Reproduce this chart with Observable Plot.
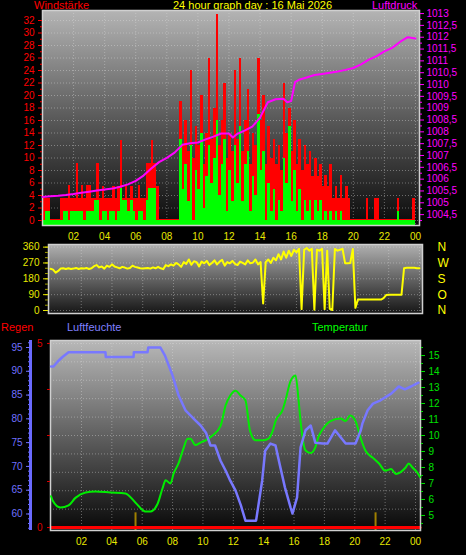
<!DOCTYPE html>
<html><head><meta charset="utf-8">
<script src="https://cdn.jsdelivr.net/npm/d3@7"></script>
<script src="https://cdn.jsdelivr.net/npm/@observablehq/plot@0.6"></script>
<style>
body{margin:0;background:#000;}
#c{position:relative;width:466px;height:555px;background:#000;overflow:hidden;font-family:"Liberation Sans",Arial,sans-serif;}
.t{position:absolute;font-size:11px;line-height:11px;white-space:nowrap;}
</style></head><body>
<svg width="0" height="0" style="position:absolute"><defs>
<linearGradient id="gTop" x1="0" y1="0" x2="0" y2="1"><stop offset="0" stop-color="#b4b4b4"/><stop offset="0.5" stop-color="#5a5a5a"/><stop offset="1" stop-color="#0a0a0a"/></linearGradient>
<linearGradient id="gMid" x1="0" y1="0" x2="0" y2="1"><stop offset="0" stop-color="#b0b0b0"/><stop offset="1" stop-color="#161616"/></linearGradient>
<linearGradient id="gBot" x1="0" y1="0" x2="0" y2="1"><stop offset="0" stop-color="#b8b8b8"/><stop offset="0.5" stop-color="#606060"/><stop offset="1" stop-color="#080808"/></linearGradient>
</defs></svg>
<div id="c">
<div class="t" style="left:34px;top:0px;color:#ff0000">Windstärke</div>
<div class="t" style="left:173px;top:0px;color:#ffff00">24 hour graph day : 16 Mai 2026</div>
<div class="t" style="left:372px;top:0px;color:#ff00ff">Luftdruck</div>
<div class="t" style="left:1px;top:322px;color:#ff0000">Regen</div>
<div class="t" style="left:67px;top:322px;color:#8080ff">Luftfeuchte</div>
<div class="t" style="left:312px;top:322px;color:#00ff00">Temperatur</div>
</div>
<script>
// ---------- data ----------
// wind (km/h), one value per 10 minutes from 00:00
const windGust = [
3.6,3.6,3.6,0,0,0,0,3.6,3.6,3.6,
5.6,3.6,3.6,9.2,3.6,5.6,3.6,5.6,5.6,3.6,
3.6,9.2,3.6,5.4,3.6,3.6,3.6,5.4,3.6,5.4,
12.8,3.6,5.4,3.6,5.4,3.6,3.6,5.6,3.6,3.6,
9.2,9.2,12.8,9.2,5.4,0,0,0,0,0,
0,0,0,19,12,16,11,24,10,15,
12,20,9,14,26,13,18,33,12,16,
22,10,14,11,24,13,26,11,16,21,
9,14,12,26,16,20,9,15,10,13,
9,12,8,22,14,18,11,16,9,13,
8,12,9,11,7,10,7,9,5.4,7.2,
5.4,9,3.6,5.4,3.6,7.2,3.6,5.4,3.6,0,
0,0,0,0,0,3.6,0,0,3.6,3.6,
0,0,0,0,0,0,0,3.6,0,0,
0,0,0,3.6];
const windAvg = [
0,1.4,1.4,0,0,0,0,0,1.4,1.4,
0,1.4,1.4,1.4,1.4,1.4,0,1.4,1.4,1.4,
3.2,3.2,0,1.4,1.4,0,1.4,1.4,0,1.4,
5.1,3.2,3.2,1.4,3.2,1.4,0,1.4,1.4,0,
3.2,5.1,5.1,5.1,0,0,0,0,0,0,
0,0,0,13,5,9,3,12,0,8,
5,14,2,7,12,6,10,16,4,9,
13,1.4,8,3,12,6,15,3,9,11,
1.4,7,4,17,8,11,0,6,1.4,5,
0,3.2,1.4,10,6,15,3,8,1.4,5,
0,3.2,1.4,3.2,0,3.2,1.4,3.2,0,1.4,
0,1.4,0,1.4,0,1.4,0,0,0,0,
0,0,0,0,0,0,0,0,0,0,
0,0,0,0,0,0,0,1.4,0,0,
0,0,0,0];
// pressure (hPa)
const pressHours = [0,0.5,1,1.5,2,2.5,3,3.5,4,4.5,5,5.5,6,6.5,7,7.5,8,8.5,9,9.5,10,10.5,11,11.5,12,12.25,12.5,13,13.5,14,14.5,15,15.5,15.75,16,16.25,16.5,17,17.5,18,18.5,19,19.5,20,20.5,21,21.5,22,22.5,23,23.5,24];
const pressure = [1005.25,1005.28,1005.3,1005.33,1005.37,1005.42,1005.47,1005.52,1005.56,1005.6,1005.68,1005.78,1005.93,1006.15,1006.45,1006.72,1006.9,1007.12,1007.45,1007.52,1007.55,1007.68,1007.8,1007.93,1007.93,1007.76,1007.9,1008.05,1008.22,1008.6,1009.25,1009.38,1009.4,1009.25,1009.3,1010.1,1010.2,1010.3,1010.4,1010.45,1010.5,1010.55,1010.62,1010.7,1010.85,1011.05,1011.2,1011.4,1011.55,1011.8,1012.0,1011.95];
// wind direction (degrees), one value per 10 minutes
const windDir = [
237,232,215,225,238,240,236,240,236,238,
242,236,240,238,242,236,240,252,258,245,
250,238,255,248,262,250,245,240,248,244,
238,242,255,248,244,240,238,240,242,238,
245,240,248,240,235,258,252,262,255,270,
262,248,275,265,290,260,280,275,250,278,
268,282,258,270,285,262,278,288,255,275,
268,282,265,258,278,270,262,285,268,272,
290,262,275,40,275,290,270,300,285,320,
290,335,300,340,310,345,330,350,8,345,
355,340,350,5,345,340,350,8,340,10,
3,350,340,345,350,268,268,270,350,15,
62,62,62,62,62,62,62,62,62,62,
70,88,90,90,90,90,90,90,240,243,
243,243,243,240,240];
// humidity (%)
const humHours = [0,0.16,0.42,0.75,1.15,3.58,3.6,5.43,5.45,6.35,6.4,7.2,7.5,8.0,8.4,8.85,9.5,9.85,10.2,10.5,10.8,11.16,11.5,11.8,12.15,12.5,12.8,13.27,13.5,13.9,14.1,14.45,14.78,15.1,15.4,15.77,15.9,16.2,16.43,16.76,17.1,17.4,17.9,18.2,18.7,19.4,20.05,20.4,20.5,20.85,21.2,21.7,22.4,22.9,23.3,23.7,24.2];
const humidity = [91,91,92,93,94,94,93,93,94,94,95,95,93.3,89.1,84.9,81.8,79.7,78.6,77.1,74.4,74.4,71.2,69.1,67,64.9,61.8,58.6,58.6,58.6,67,73.3,74.8,74.4,69.8,65.6,61.4,60.1,63.5,74,77.6,78.6,75,74.8,74.8,77.6,74.8,74.8,77.6,79,81.8,83.2,83.9,85.3,86.8,86.2,86.8,87.6];
// temperature (°C)
const tempHours = [0,0.1,0.62,1.15,1.6,2.27,2.92,3.9,4.9,5.56,6.2,6.55,7.0,7.34,7.54,7.87,8.06,8.39,8.72,8.99,9.18,9.5,9.84,10.17,10.63,11.16,11.5,11.8,12.15,12.48,12.8,13.1,13.47,14.0,14.32,14.6,14.78,15.25,15.44,15.77,16.1,16.3,16.43,16.76,17.1,17.4,17.6,17.9,18.4,19.06,19.4,19.7,20.05,20.4,20.7,21.2,21.6,22.0,22.4,22.7,23.0,23.35,23.55,23.8,24.1,24.3];
const temperature = [6.2,5.94,5.5,5.63,6.1,6.44,6.5,6.44,6.38,5.8,5.25,5.25,5.7,6.7,7.2,7.0,7.6,8.25,9.2,9.8,9.8,9.4,9.56,9.7,10,10.6,11.9,12.5,12.8,12.5,12.2,10.3,9.7,9.7,9.8,10.3,10.9,11.6,12.2,13.4,13.75,12.2,10.9,9.06,8.9,9.25,9.9,10.4,10.9,11.06,10.9,11.25,10.9,9.8,9.06,8.6,8.25,7.8,7.9,7.6,7.7,8.0,8.25,8.0,7.7,7.4];
// rain (mm)
const rainHours = [0, 24.3];
const rain = [0, 0];
const markHours = [5.56, 21.37];
const markValues = [0.4, 0.4];

const hourTicks = d3.range(2, 25, 2);
const windTicks = d3.range(0, 33, 2);
const pressTicks = d3.range(1004.5, 1013.01, 0.5);
const dirTicks = [0, 90, 180, 270, 360];
const dirNames = ["N", "O", "S", "W", "N"];
const humTicks = [60, 65, 70, 75, 80, 85, 90, 95];
const tempTicks = d3.range(5, 16, 1);
const rainTicks = [0, 1.25, 2.5, 3.75, 5];
const rainLabels = [0, 5];

// ---------- tables ----------
const step = 1 / 6;
const windTable = windGust.map((g, i) => ({x1: i * step, x2: (i + 1) * step, gust: g, avg: windAvg[i]}));
const pressTable = pressHours.map((h, i) => ({h, v: pressure[i]}));
const dirTable = windDir.map((v, i) => ({h: i * step, v}));
const humTable = humHours.map((h, i) => ({h, v: humidity[i]}));
const tempTable = tempHours.map((h, i) => ({h, v: temperature[i]}));
const rainTable = rainHours.map((h, i) => ({h, v: rain[i]}));
const markTable = markHours.map((h, i) => ({h, v: markValues[i]}));

const fmtHour = d => String(d % 24).padStart(2, "0");
const FONT = "'Liberation Sans', Arial, sans-serif";
const baseStyle = {background: "transparent", fontFamily: FONT, overflow: "visible"};
const c = document.getElementById("c");
function place(svg, top) {
  svg.style.position = "absolute"; svg.style.left = "0px"; svg.style.top = top + "px";
  c.appendChild(svg);
}
const gridStyle = {stroke: "#e0e0e0", strokeOpacity: 0.4, strokeDasharray: "1,2"};

// ---------- top panel ----------
const topDims = {width: 466, height: 240, marginLeft: 42, marginRight: 47, marginTop: 10, marginBottom: 15,
  x: {domain: [0, 24.26], axis: null}, style: baseStyle};
place(Plot.plot({...topDims, y: {domain: [-0.8, 33.6], axis: null}, marks: [
  Plot.frame({fill: "url(#gTop)"}),
  Plot.gridX(hourTicks, gridStyle),
  Plot.gridY(windTicks, gridStyle),
  Plot.rect(windTable, {x1: "x1", x2: "x2", y1: -0.16, y2: d => Math.max(d.gust, 0.16), fill: "#ff0000", shapeRendering: "crispEdges"}),
  Plot.rect(windTable, {x1: "x1", x2: "x2", y1: -0.8, y2: d => Math.max(d.avg, -0.35), fill: "#00ff00", shapeRendering: "crispEdges"}),
  Plot.frame({stroke: "#d0d0d0", strokeWidth: 1.5}),
  Plot.axisY(d3.range(1, 33, 2), {tickSize: 2, tickFormat: () => "", color: "#ff0000", label: null}),
  Plot.axisY(windTicks, {tickSize: 4, tickPadding: 4, color: "#ff0000", fontSize: 10, label: null}),
  Plot.axisX(hourTicks, {tickSize: 0, tickPadding: 7, color: "#e8e800", fontSize: 10, tickFormat: fmtHour, label: null})
]}), 0);
place(Plot.plot({...topDims, y: {domain: [1004.04, 1013.13], axis: null}, marks: [
  Plot.line(pressTable, {x: "h", y: "v", stroke: "#ff00ff", strokeWidth: 2}),
  Plot.axisY(d3.range(1004.25, 1013.01, 0.5), {anchor: "right", tickSize: 2, tickFormat: () => "", color: "#ff00ff", label: null}),
  Plot.axisY(pressTicks, {anchor: "right", tickSize: 4, tickPadding: 3, color: "#ff00ff", fontSize: 10, label: null,
    tickFormat: d => String(d).replace(".", ",")})
]}), 0);

// ---------- middle panel ----------
place(Plot.plot({width: 466, height: 80, marginLeft: 48, marginRight: 44, marginTop: 6, marginBottom: 5,
  x: {domain: [-0.13, 24.2], axis: null}, y: {domain: [-17, 375], axis: null}, style: baseStyle, marks: [
  Plot.frame({fill: "url(#gMid)"}),
  Plot.gridX(hourTicks, gridStyle),
  Plot.gridY(dirTicks, gridStyle),
  Plot.line(dirTable, {x: "h", y: "v", stroke: "#ffff00", strokeWidth: 2}),
  Plot.frame({stroke: "#d0d0d0", strokeWidth: 1.5}),
  Plot.axisY(d3.range(0, 361, 30), {tickSize: 3, tickFormat: () => "", color: "#a0a000", label: null}),
  Plot.axisY(dirTicks, {tickSize: 5, tickPadding: 4, color: "#e8e800", fontSize: 10, label: null}),
  Plot.axisY(dirTicks, {anchor: "right", tickSize: 0, tickPadding: 15, color: "#ffff00", fontSize: 12, label: null,
    tickFormat: (d, i) => dirNames[i]})
]}), 238);

// ---------- bottom panel ----------
const botDims = {width: 466, height: 225, marginLeft: 50, marginRight: 46, marginTop: 10, marginBottom: 25,
  x: {domain: [-0.04, 24.33], axis: null}, style: baseStyle};
place(Plot.plot({...botDims, y: {domain: [-0.08, 5.08], axis: null}, marks: [
  Plot.frame({fill: "url(#gBot)"}),
  Plot.gridX(hourTicks, gridStyle),
  Plot.gridY(d3.range(0.5, 5.01, 0.5), gridStyle),
  Plot.ruleX(markTable, {x: "h", y1: -0.08, y2: "v", stroke: "#a08000", strokeWidth: 2}),
  Plot.line(rainTable, {x: "h", y: "v", stroke: "#ff0000", strokeWidth: 3}),
  Plot.frame({stroke: "#d0d0d0", strokeWidth: 1.5}),
  Plot.axisY(rainTicks, {tickSize: 3, tickPadding: 5, color: "#dd0000", fontSize: 10, label: null,
    tickFormat: d => rainLabels.includes(d) ? String(d) : ""}),
  Plot.axisX(hourTicks, {tickSize: 0, tickPadding: 7, color: "#e8e800", fontSize: 10, tickFormat: fmtHour, label: null})
]}), 330);
place(Plot.plot({...botDims, y: {domain: [4.06, 15.94], axis: null}, marks: [
  Plot.line(tempTable, {x: "h", y: "v", stroke: "#00ee00", strokeWidth: 2, curve: "monotone-x"}),
  Plot.axisY(d3.range(4.5, 15.6, 1), {anchor: "right", tickSize: 2, tickFormat: () => "", color: "#00e000", label: null}),
  Plot.axisY(tempTicks, {anchor: "right", tickSize: 4, tickPadding: 4, color: "#00e000", fontSize: 10, label: null})
]}), 330);
place(Plot.plot({...botDims, y: {domain: [56.53, 96.47], axis: null}, marks: [
  Plot.line(humTable, {x: "h", y: "v", stroke: "#7878ff", strokeWidth: 2.5}),
  Plot.ruleX([-0.04], {dx: -20, stroke: "#6a6aff", strokeWidth: 3}),
  Plot.axisY(d3.range(57, 97, 1), {dx: -20, tickSize: 2, tickFormat: () => "", color: "#6a6aff", label: null}),
  Plot.axisY(humTicks, {dx: -20, tickSize: 4, tickPadding: 4, color: "#7070ff", fontSize: 10, label: null})
]}), 330);
</script>
</body></html>
